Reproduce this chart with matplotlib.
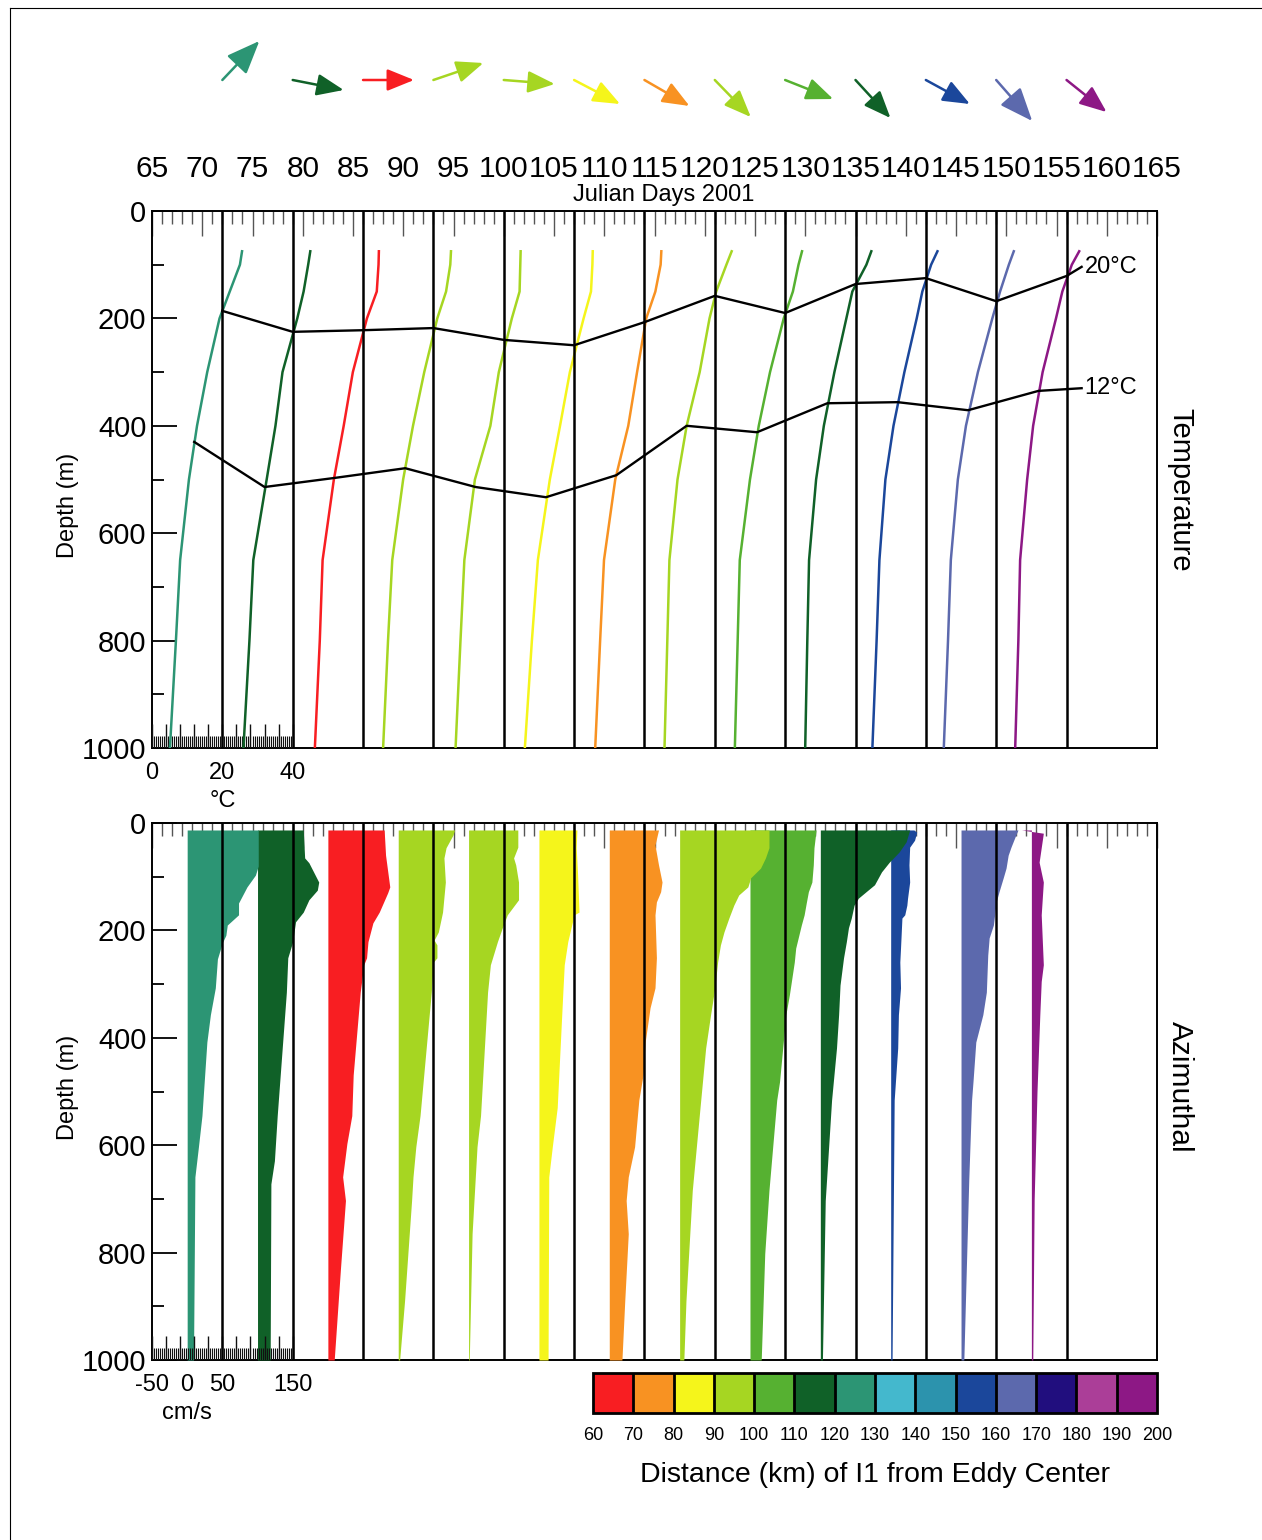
import numpy as np
import matplotlib
matplotlib.use("Agg")
import matplotlib.pyplot as plt
import matplotlib.transforms as mtransforms
from matplotlib.colors import ListedColormap, BoundaryNorm
from matplotlib.cm import ScalarMappable
from matplotlib.lines import Line2D

plt.rcParams['font.family'] = ['Liberation Sans', 'DejaVu Sans']

# ---------------------------------------------------------------- data
# distance classes (km) and their colours
dist_edges = list(range(60, 201, 10))
dist_colors = ['#F81E22', '#F89222', '#F5F51B', '#A6D622', '#56B131', '#106128',
               '#2C9574', '#44B8CD', '#2C93AD', '#1B479B', '#5C69AD', '#210E7E',
               '#AB3E98', '#8D1885']

# one station per week, starting on Julian day 65
station_start_day = [65, 72, 79, 86, 93, 100, 107, 114, 121, 128, 135, 142, 149]
station_dist_km = [125, 115, 65, 95, 95, 85, 75, 95, 105, 115, 155, 165, 195]

# direction (deg, counter-clockwise from east) and length of the drift arrows
arrow_dir_deg = [46.5, -11.1, 0.0, 18.8, -4.5, -27.6, -30.0, -45.8, -21.6, -47.4, -28.6, -48.7, -38.7]
arrow_len = [5.35, 5.17, 5.07, 5.25, 5.09, 5.16, 5.17, 5.14, 5.14, 5.14, 4.99, 5.43, 5.10]

# temperature profiles (deg C) at fixed depths (m)
temp_depth = [75, 100, 150, 200, 300, 400, 500, 650, 800, 1000]
temp_profiles = [
    [25.6, 25.0, 22.1, 19.2, 15.7, 12.8, 10.5, 8.0, 6.8, 5.1],
    [25.0, 24.4, 23.1, 21.3, 17.1, 15.1, 12.6, 8.8, 7.7, 6.0],
    [24.5, 24.4, 23.9, 21.1, 17.1, 14.5, 11.7, 8.5, 7.7, 6.3],
    [25.0, 24.8, 23.6, 21.1, 17.4, 14.2, 11.4, 8.3, 7.1, 5.7],
    [24.8, 24.7, 24.5, 22.3, 18.6, 16.2, 11.8, 8.8, 7.7, 6.3],
    [25.3, 25.2, 24.8, 22.7, 18.8, 16.0, 13.1, 9.7, 8.0, 6.0],
    [24.8, 24.6, 23.1, 20.5, 17.9, 15.4, 11.7, 8.5, 7.4, 6.0],
    [24.8, 23.3, 20.4, 18.5, 15.7, 12.0, 9.4, 7.1, 6.5, 5.7],
    [24.8, 23.8, 22.2, 19.6, 15.7, 12.5, 10.0, 7.1, 6.5, 5.7],
    [24.5, 23.1, 19.1, 17.4, 14.0, 11.0, 8.8, 6.8, 6.3, 5.7],
    [23.3, 21.5, 19.0, 17.4, 13.9, 10.8, 8.5, 6.8, 6.0, 4.8],
    [25.0, 23.6, 21.1, 18.9, 14.8, 11.4, 9.1, 7.1, 6.3, 5.1],
    [23.6, 21.5, 18.8, 17.0, 13.2, 10.5, 8.8, 6.8, 6.3, 5.4],
]

# depth (m) of the 20 and 12 deg C isotherms at each station
iso20_depth = [186, 225, 222, 218, 240, 250, 207, 158, 190, 136, 125, 168, 121]
iso12_depth = [430, 514, 497, 479, 514, 533, 492, 400, 412, 358, 356, 371, 335]

# azimuthal velocity (cm/s) profiles
az_depth = [
    [13, 80, 97, 119, 149, 171, 190, 209, 223, 253, 307, 357, 408, 545, 603, 659, 1000],
    [13, 65, 74, 110, 125, 143, 166, 184, 221, 251, 315, 545, 629, 672, 1000],
    [13, 60, 119, 130, 166, 186, 221, 251, 264, 315, 469, 545, 597, 659, 703, 828, 1000],
    [13, 22, 46, 65, 110, 166, 203, 218, 227, 251, 259, 315, 545, 603, 659, 703, 890, 1000],
    [13, 45, 65, 78, 110, 143, 171, 195, 221, 264, 315, 545, 603, 765, 1000],
    [13, 46, 97, 166, 171, 221, 264, 315, 530, 603, 659, 1000],
    [13, 41, 78, 110, 128, 147, 171, 251, 307, 344, 408, 469, 516, 603, 659, 703, 765, 890, 1000],
    [13, 46, 65, 84, 102, 119, 134, 153, 177, 203, 227, 259, 307, 357, 419, 516, 684, 890, 1000],
    [13, 46, 78, 110, 128, 149, 171, 190, 233, 259, 320, 357, 482, 516, 684, 802, 1000],
    [13, 35, 54, 73, 91, 115, 128, 140, 153, 177, 195, 221, 251, 302, 357, 419, 516, 703, 1000],
    [13, 17, 32, 45, 78, 110, 140, 153, 171, 177, 233, 259, 307, 357, 419, 516, 1000],
    [13, 22, 45, 60, 84, 102, 128, 147, 190, 214, 246, 315, 357, 408, 482, 516, 665, 1000],
    [13, 19, 46, 73, 110, 171, 264, 295, 357, 500, 700, 1000],
]
az_speed = [
    [101, 101, 97, 85, 73, 73, 57, 55, 50, 43, 40, 33, 28, 21, 16, 11, 9],
    [65, 67, 73, 87, 85, 73, 65, 54, 50, 43, 41, 28, 24, 19, 18],
    [80, 82, 88, 85, 73, 64, 57, 55, 51, 46, 36, 34, 27, 21, 25, 18, 9],
    [80, 78, 68, 65, 67, 63, 57, 51, 55, 55, 50, 47, 31, 25, 21, 19, 9, 2],
    [70, 70, 64, 67, 71, 71, 55, 48, 41, 31, 27, 17, 12, 5, 1],
    [54, 53, 55, 57, 50, 41, 36, 34, 26, 19, 14, 13],
    [70, 65, 70, 75, 73, 67, 65, 67, 65, 58, 51, 48, 42, 36, 27, 24, 27, 22, 18],
    [127, 127, 122, 115, 101, 97, 84, 77, 70, 63, 58, 54, 50, 44, 37, 30, 18, 9, 6],
    [94, 91, 90, 88, 83, 80, 77, 73, 65, 63, 56, 51, 42, 38, 27, 21, 16],
    [127, 122, 112, 98, 87, 77, 65, 54, 48, 44, 40, 37, 33, 28, 26, 23, 16, 7, 3],
    [33, 37, 34, 27, 26, 27, 24, 23, 20, 16, 14, 13, 14, 11, 10, 5, 2],
    [81, 78, 71, 67, 64, 60, 54, 50, 46, 40, 38, 36, 31, 21, 17, 15, 11, 4],
    [-14, 17, 14, 11, 17, 14, 17, 14, 12, 8, 4, 2],
]

# ---------------------------------------------------------------- scales
DAYS_PER_DEGC = 0.35     # 20 deg C spans one week
DAYS_PER_CMS = 0.07      # 100 cm/s spans one week
VEL_ZERO_SHIFT = 3.5     # -50 cm/s sits on the station start day

cmap = ListedColormap(dist_colors)
norm = BoundaryNorm(dist_edges, cmap.N)
station_colors = [cmap(norm(d)) for d in station_dist_km]
ref_days = [d + 7 for d in station_start_day]

W, H = 1262, 1540
fig = plt.figure(figsize=(W / 100, H / 100), dpi=100)


def rect(x0, y0, x1, y1):
    return [x0 / W, 1 - y1 / H, (x1 - x0) / W, (y1 - y0) / H]


def fy(ypx):
    return 1 - ypx / H


def setup_panel(ax, top_labels):
    ax.set_xlim(65, 165)
    ax.set_ylim(1000, 0)
    ax.xaxis.tick_top()
    ax.set_xticks(np.arange(65, 166, 5))
    ax.set_xticks(np.arange(65, 166, 1), minor=True)
    ax.set_yticks(np.arange(0, 1001, 200))
    ax.set_yticks(np.arange(100, 1000, 200), minor=True)
    ax.tick_params(axis='x', which='major', direction='in', length=18, width=1.0,
                   color='#555555', pad=20, labelsize=21.5, labeltop=top_labels)
    ax.tick_params(axis='x', which='minor', direction='in', length=9.4, width=1.0,
                   color='#555555')
    ax.tick_params(axis='y', which='major', direction='in', length=18, width=1.3,
                   pad=4, labelsize=21)
    ax.tick_params(axis='y', which='minor', direction='in', length=8.6, width=1.3)
    for s in ax.spines.values():
        s.set_linewidth(1.4)
    for d in ref_days:
        ax.axvline(d, color='black', lw=1.8, zorder=6)
    # fine scale ticks along the bottom of the first two weeks
    tr = mtransforms.blended_transform_factory(ax.transData, ax.transAxes)
    ax.vlines(np.arange(65, 79.001, 0.2), 0, 12 / 537, transform=tr,
              color='#111111', lw=0.8, zorder=4)
    ax.vlines(np.arange(65, 79.001, 1.4), 0, 24 / 537, transform=tr,
              color='#111111', lw=1.0, zorder=4)


# ---------------------------------------------------------------- temperature panel
ax_t = fig.add_axes(rect(152, 211, 1157, 748))
setup_panel(ax_t, True)
for k, prof in enumerate(temp_profiles):
    x = station_start_day[k] + np.array(prof) * DAYS_PER_DEGC
    ax_t.plot(x, temp_depth, color=station_colors[k], lw=1.8, zorder=5)

iso20_x = list(ref_days) + [157.5]
iso12_x = [d + 12 * DAYS_PER_DEGC for d in station_start_day] + [157.5]
ax_t.plot(iso20_x, iso20_depth + [104], color='black', lw=1.7, zorder=7, clip_on=False)
ax_t.plot(iso12_x, iso12_depth + [330], color='black', lw=1.7, zorder=7, clip_on=False)
ax_t.text(157.8, 104, '20°C', fontsize=17, ha='left', va='center')
ax_t.text(157.8, 330, '12°C', fontsize=17, ha='left', va='center')

tr_t = mtransforms.blended_transform_factory(ax_t.transData, fig.transFigure)
for d, s in zip([65, 72, 79], ['0', '20', '40']):
    ax_t.text(d, fy(773), s, transform=tr_t, fontsize=17, ha='center', va='center')
ax_t.text(72, fy(801), '°C', transform=tr_t, fontsize=17, ha='center', va='center')

fig.text(664 / W, fy(195), 'Julian Days 2001', fontsize=17, ha='center', va='center')
fig.text(68 / W, fy(505), 'Depth (m)', fontsize=17, rotation=90, ha='center', va='center')
fig.text(1180 / W, fy(490), 'Temperature', fontsize=21, rotation=-90, ha='center', va='center')

# ---------------------------------------------------------------- azimuthal velocity panel
ax_b = fig.add_axes(rect(152, 823, 1157, 1360))
setup_panel(ax_b, False)
for k in range(len(az_speed)):
    zero = station_start_day[k] + VEL_ZERO_SHIFT
    v = np.array(az_speed[k]) * DAYS_PER_CMS
    ax_b.fill_betweenx(az_depth[k], zero, zero + v, color=station_colors[k], lw=0,
                       zorder=3 + (13 - k) * 0.01)

tr_b = mtransforms.blended_transform_factory(ax_b.transData, fig.transFigure)
for vel, s in zip([-50, 0, 50, 150], ['-50', '0', '50', '150']):
    ax_b.text(65 + (vel + 50) * DAYS_PER_CMS, fy(1385), s, transform=tr_b, fontsize=17,
              ha='center', va='center')
ax_b.text(65 + 50 * DAYS_PER_CMS, fy(1413), 'cm/s', transform=tr_b, fontsize=17,
          ha='center', va='center')
fig.text(68 / W, fy(1087), 'Depth (m)', fontsize=17, rotation=90, ha='center', va='center')
fig.text(1180 / W, fy(1087), 'Azimuthal', fontsize=21.5, rotation=-90, ha='center', va='center')

# ---------------------------------------------------------------- drift arrows
ax_a = fig.add_axes(rect(152, 20, 1157, 140))
ax_a.set_xlim(65, 165)
ax_a.set_ylim(0, 120 / 10.05)
ax_a.axis('off')
tail_y = 60 / 10.05
for k in range(len(arrow_len)):
    a = np.deg2rad(arrow_dir_deg[k])
    x0 = ref_days[k]
    x1 = x0 + arrow_len[k] * np.cos(a)
    y1 = tail_y + arrow_len[k] * np.sin(a)
    big = arrow_len[k] > 5.3
    hl, hw = (20.5, 8.3) if big else (16.5, 6.7)
    ax_a.annotate('', xy=(x1, y1), xytext=(x0, tail_y),
                  arrowprops=dict(arrowstyle=f'-|>,head_length={hl},head_width={hw}',
                                  color=station_colors[k], lw=1.8, shrinkA=0, shrinkB=0,
                                  mutation_scale=1))

# ---------------------------------------------------------------- colour bar
cax = fig.add_axes(rect(593, 1373, 1157, 1413))
cb = fig.colorbar(ScalarMappable(norm=norm, cmap=cmap), cax=cax, orientation='horizontal',
                  drawedges=True, ticks=dist_edges)
cb.outline.set_linewidth(2)
cb.dividers.set_linewidth(2)
cax.tick_params(length=0, labelsize=13, pad=10)
cb.set_label('Distance (km) of I1 from Eddy Center', fontsize=20.5, labelpad=13)

# ---------------------------------------------------------------- page frame
fig.add_artist(Line2D([10 / W, 10 / W], [0, fy(8)], color='black', lw=0.8))
fig.add_artist(Line2D([10 / W, 1], [fy(8), fy(8)], color='black', lw=0.8))

fig.savefig('out.png', dpi=100)
